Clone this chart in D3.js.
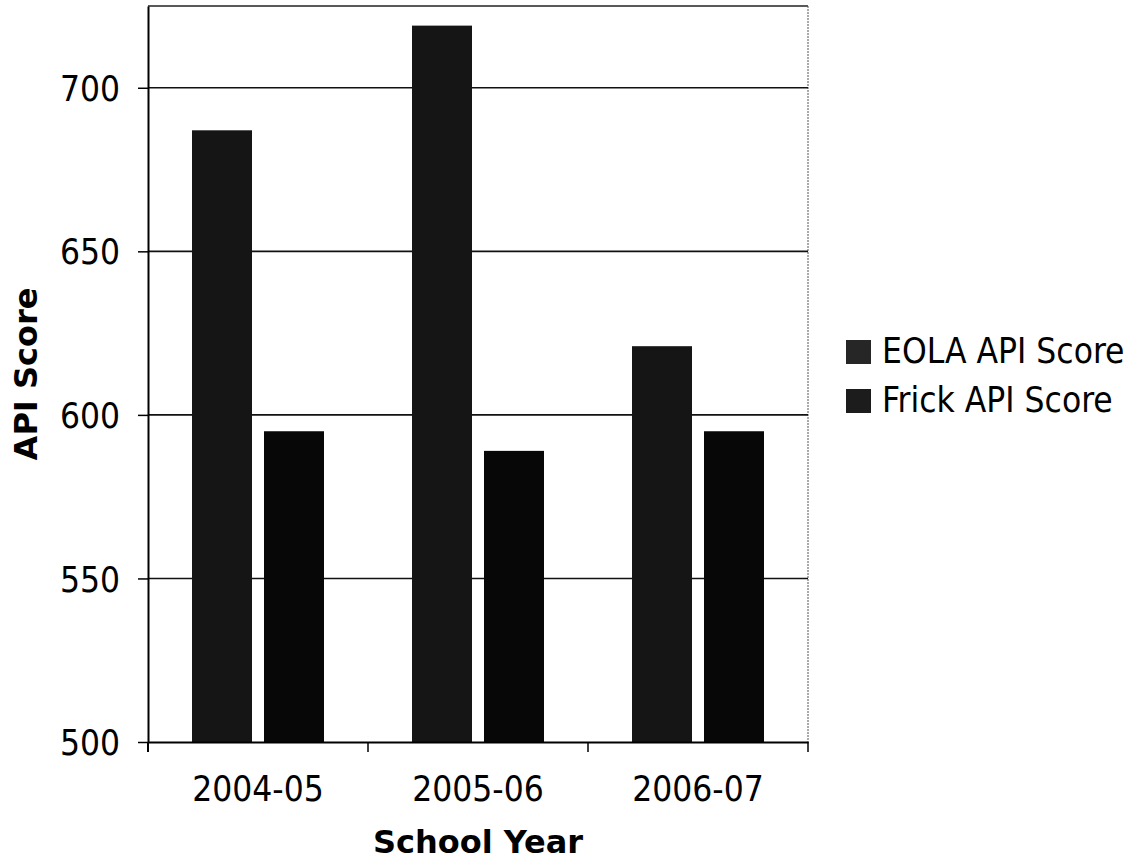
<!DOCTYPE html>
<html>
<head>
<meta charset="utf-8">
<script src="https://cdn.jsdelivr.net/npm/d3@7"></script>
<style>
  html, body { margin: 0; padding: 0; background: #fff; }
  svg { display: block; }
</style>
</head>
<body>
<svg id="chart" width="1144" height="868"></svg>
<script>
// ---- data ----
const categories = ["2004-05", "2005-06", "2006-07"];
const seriesNames = ["EOLA API Score", "Frick API Score"];
const eolaValues = [687, 719, 621];
const frickValues = [595, 589, 595];
const yTicks = [500, 550, 600, 650, 700];
const yDomain = [500, 725];

(function () {
const seriesValues = [eolaValues, frickValues];
const seriesColors = ["#151515", "#070707"];

const svg = d3.select("#chart");
const pLeft = 148, pRight = 808, pTop = 6, pBottom = 742;

const x = d3.scaleBand().domain(categories).range([pLeft, pRight]).paddingInner(0).paddingOuter(0);
const groupFrac = 0.6;
const xs = d3.scaleBand().domain(seriesNames)
  .range([0, x.bandwidth() * groupFrac]).paddingInner(1/6).paddingOuter(0);
const groupOffset = x.bandwidth() * (1 - groupFrac) / 2;
const y = d3.scaleLinear().domain(yDomain).range([pBottom, pTop]);

const tickFont = "'DejaVu Sans Condensed', 'DejaVu Sans', sans-serif";
const boldFont = "'DejaVu Sans', Verdana, sans-serif";

// plot frame (top & right)
svg.append("line").attr("x1", pLeft).attr("x2", pRight).attr("y1", y(yDomain[1])).attr("y2", y(yDomain[1]))
  .attr("stroke", "#222").attr("stroke-width", 1.6);
svg.append("line").attr("x1", pRight).attr("x2", pRight).attr("y1", y(yDomain[1])).attr("y2", pBottom)
  .attr("stroke", "#555").attr("stroke-width", 1).attr("stroke-dasharray", "2,1");

// gridlines
svg.append("g").selectAll("line").data(yTicks.filter(t => t !== yDomain[0])).join("line")
  .attr("x1", pLeft).attr("x2", pRight)
  .attr("y1", d => y(d)).attr("y2", d => y(d))
  .attr("stroke", "#111").attr("stroke-width", 1.6);

// bars
const groups = svg.append("g").selectAll("g").data(categories).join("g")
  .attr("transform", c => `translate(${x(c) + groupOffset},0)`);
groups.selectAll("rect")
  .data((c, i) => seriesNames.map((s, k) => ({ s, v: seriesValues[k][i], k })))
  .join("rect")
  .attr("x", d => xs(d.s))
  .attr("width", xs.bandwidth())
  .attr("y", d => y(d.v))
  .attr("height", d => y(yDomain[0]) - y(d.v))
  .attr("fill", d => seriesColors[d.k]);

// y axis
const yAxis = svg.append("g").attr("transform", `translate(${pLeft},0)`)
  .call(d3.axisLeft(y).tickValues(yTicks).tickSize(10).tickPadding(18).tickSizeOuter(0));
yAxis.select(".domain").attr("stroke", "#000").attr("stroke-width", 2);
yAxis.selectAll(".tick line").attr("stroke", "#000").attr("stroke-width", 1.5);
yAxis.selectAll("text").attr("font-family", tickFont).attr("font-size", 35)
  .attr("fill", "#000").attr("dy", "0.36em");

// left axis extension down to tick length
svg.append("line").attr("x1", pLeft).attr("x2", pLeft).attr("y1", pBottom).attr("y2", pBottom + 10)
  .attr("stroke", "#000").attr("stroke-width", 2);

// x axis
const xAxis = svg.append("g").attr("transform", `translate(0,${pBottom})`)
  .call(d3.axisBottom(x).tickSize(0).tickPadding(34).tickSizeOuter(0));
xAxis.select(".domain").attr("stroke", "#000").attr("stroke-width", 2);
xAxis.selectAll("text").attr("font-family", tickFont).attr("font-size", 35).attr("fill", "#000");

// x tick marks at category boundaries
const boundaries = categories.map(c => x(c)).concat([x.range()[1]]);
svg.append("g").selectAll("line").data(boundaries).join("line")
  .attr("x1", d => d).attr("x2", d => d)
  .attr("y1", pBottom).attr("y2", pBottom + 10)
  .attr("stroke", "#000").attr("stroke-width", 1.5);

// axis titles
svg.append("text")
  .attr("transform", `translate(37,${(pTop + pBottom) / 2}) rotate(-90)`)
  .attr("text-anchor", "middle")
  .attr("font-family", boldFont).attr("font-weight", "bold").attr("font-size", 32)
  .text("API Score");
svg.append("text")
  .attr("x", (pLeft + pRight) / 2).attr("y", 853)
  .attr("text-anchor", "middle")
  .attr("font-family", boldFont).attr("font-weight", "bold").attr("font-size", 32)
  .text("School Year");

// legend
const legend = svg.append("g").selectAll("g").data(seriesNames).join("g")
  .attr("transform", (d, i) => `translate(846,${340 + i * 49})`);
legend.append("rect").attr("width", 25).attr("height", 24)
  .attr("fill", (d, i) => i === 0 ? "#262626" : "#1c1c1c");
legend.append("text").attr("x", 36).attr("y", 23)
  .attr("font-family", tickFont).attr("font-size", 35).attr("fill", "#000")
  .text(d => d);
})();
</script>
</body>
</html>
